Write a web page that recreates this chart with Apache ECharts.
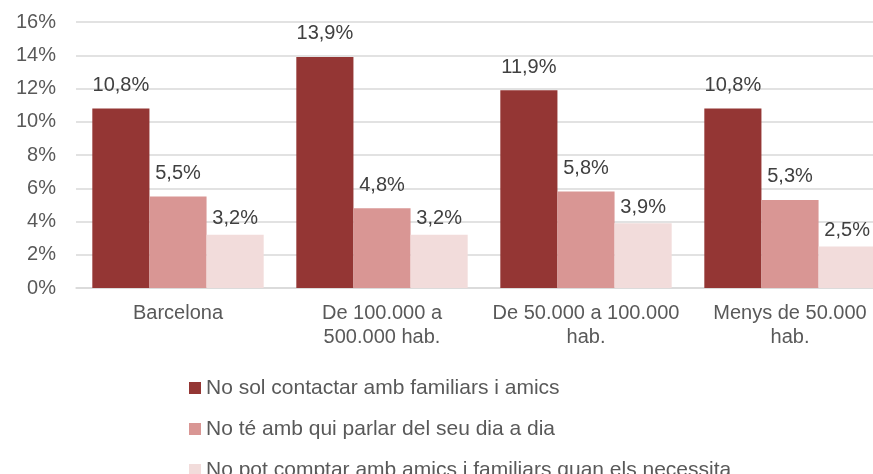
<!DOCTYPE html>
<html>
<head>
<meta charset="utf-8">
<script src="https://cdn.jsdelivr.net/npm/echarts@6/dist/echarts.min.js"></script>
<style>
  html, body { margin: 0; padding: 0; background: #fff; overflow: hidden; }
  /* the original is cropped on the right, so draw wider and clip */
  #wrap { width: 873px; height: 474px; overflow: hidden; }
  #chart { width: 892px; height: 474px; }
</style>
</head>
<body>
<div id="wrap"><div id="chart"></div></div>
<script>
const categories = ['Barcelona', 'De 100.000 a\n500.000 hab.', 'De 50.000 a 100.000\nhab.', 'Menys de 50.000\nhab.'];
const seriesNames = [
    'No sol contactar amb familiars i amics',
    'No té amb qui parlar del seu dia a dia',
    'No pot comptar amb amics i familiars quan els necessita'
];
const noContacta = [10.8, 13.9, 11.9, 10.8];
const noParla = [5.5, 4.8, 5.8, 5.3];
const noPotComptar = [3.2, 3.2, 3.9, 2.5];
const colors = ['#943634', '#D99694', '#F2DCDB'];

const FONT = 'Liberation Sans, Arial, sans-serif';
const fmt = (p) => p.value.toFixed(1).replace('.', ',') + '%';

const makeSeries = (name, data, color, dist) => ({
    name: name,
    type: 'bar',
    data: data,
    barGap: '0%',
    barCategoryGap: '16%',
    itemStyle: { color: color },
    label: {
        show: true,
        position: 'top',
        distance: dist,
        formatter: fmt,
        color: '#404040',
        fontSize: 20,
        fontFamily: FONT
    }
});

// one legend per series so they stack like the original
const makeLegend = (name, top) => ({
    orient: 'vertical',
    left: 184,
    top: top,
    icon: 'rect',
    itemWidth: 12,
    itemHeight: 12,
    itemGap: 4,
    textStyle: { color: '#595959', fontSize: 21, lineHeight: 22, fontFamily: FONT },
    data: [name]
});

const chart = echarts.init(document.getElementById('chart'));
chart.setOption({
    animation: false,
    color: colors,
    grid: { left: 76, top: 22, right: 0, height: 266 },
    xAxis: {
        type: 'category',
        data: categories,
        axisLine: { lineStyle: { color: '#D9D9D9', width: 1.5 } },
        axisTick: { show: false },
        axisLabel: {
            interval: 0,
            margin: 13,
            color: '#595959',
            fontSize: 20,
            lineHeight: 24,
            fontFamily: FONT
        }
    },
    yAxis: {
        type: 'value',
        min: 0,
        max: 16,
        interval: 2,
        axisLine: { show: false },
        axisTick: { show: false },
        splitLine: { lineStyle: { color: '#D9D9D9', width: 1.5 } },
        axisLabel: {
            formatter: '{value}%',
            margin: 20,
            color: '#595959',
            fontSize: 20,
            fontFamily: FONT
        }
    },
    legend: [
        makeLegend(seriesNames[0], 372),
        makeLegend(seriesNames[1], 413),
        makeLegend(seriesNames[2], 454)
    ],
    series: [
        makeSeries(seriesNames[0], noContacta, colors[0], 13),
        makeSeries(seriesNames[1], noParla, colors[1], 13),
        makeSeries(seriesNames[2], noPotComptar, colors[2], 6)
    ]
});
</script>
</body>
</html>
